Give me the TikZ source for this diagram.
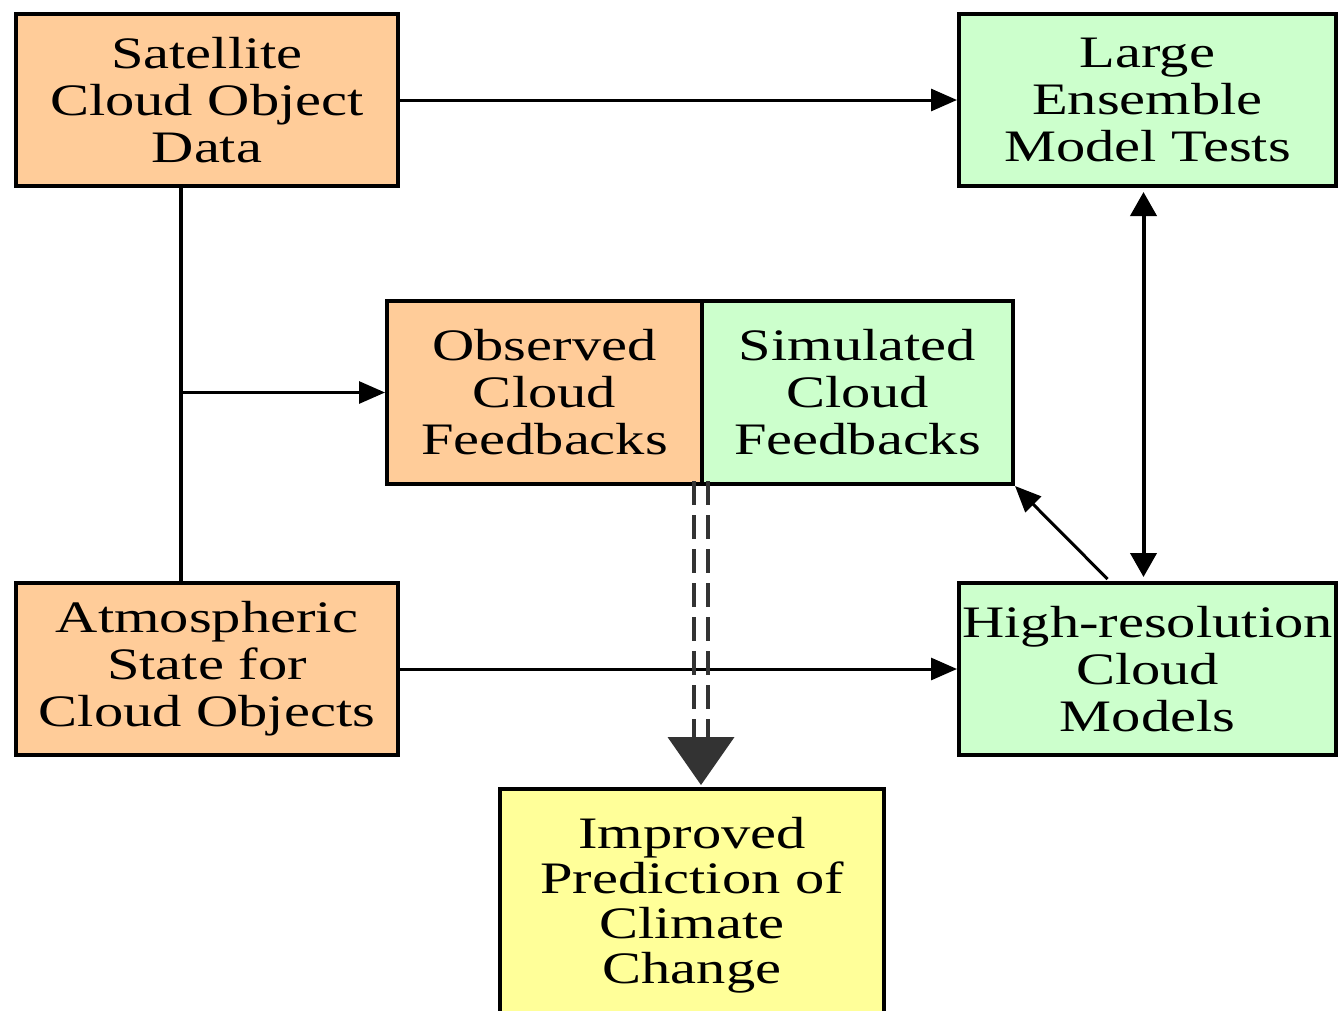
\documentclass[tikz,border=0pt]{standalone}
\usepackage{fontspec}
\setmainfont{Liberation Serif}[FakeStretch=1.3]
\usetikzlibrary{arrows.meta,calc}
\definecolor{boxorange}{HTML}{FFCC99}
\definecolor{boxgreen}{HTML}{CCFFCC}
\definecolor{boxyellow}{HTML}{FFFF99}
\definecolor{ddgray}{HTML}{333333}
\begin{document}
\begin{tikzpicture}[x=1pt,y=-1pt,
  box/.style={draw=black, line width=4pt, rectangle, inner sep=0pt, align=center,
    font=\fontsize{45}{47}\selectfont},
  obox/.style={box, fill=boxorange},
  gbox/.style={box, fill=boxgreen},
  ybox/.style={box, fill=boxyellow, font=\fontsize{45}{45}\selectfont},
  conn/.style={draw=black, line width=3pt},
  arr/.style={conn, -{Triangle[length=26pt,width=22pt]}},
  arrb/.style={conn, line width=4pt, {Triangle[length=24pt,width=26pt]}-{Triangle[length=24pt,width=26pt]}},
  dd/.style={draw=ddgray, line width=4pt, dash pattern=on 24pt off 10pt}
]
\useasboundingbox (0,0) rectangle (1340,1010);
\fill[white] (0,0) rectangle (1340,1010);

\node[obox, minimum width=382pt, minimum height=172pt] (sat) at (207,100) {Satellite\\Cloud Object\\Data};
\node[gbox, minimum width=377pt, minimum height=172pt] (ens) at (1147.5,100) {Large\\Ensemble\\Model Tests};
\node[obox, minimum width=315pt, minimum height=183pt] (obs) at (544.5,392.5) {Observed\\Cloud\\Feedbacks};
\node[gbox, minimum width=311pt, minimum height=183pt] (sim) at (857.5,392.5) {Simulated\\Cloud\\Feedbacks};
\node[obox, minimum width=382pt, minimum height=172pt] (atm) at (207,669) {Atmospheric\\State for\\Cloud Objects};
\node[gbox, minimum width=377pt, minimum height=172pt] (hr) at (1147.5,669) {High-resolution\\Cloud\\Models};
\node[ybox, minimum width=384pt, minimum height=232pt] (imp) at (692,905) {Improved\\Prediction of\\Climate\\Change};

% connectors
\draw[arr] (sat) -- (ens);
\draw[conn, line width=4pt] ([xshift=-26pt]sat.south) -- ([xshift=-26pt]atm.north);
\coordinate (jn) at ([xshift=-26pt]sat.south |- obs.west);
\draw[arr] (jn) -- (obs.west);
\draw[arr] (atm) -- (hr);
\draw[arrb, shorten <=4pt, shorten >=4pt] ([xshift=-4pt]ens.south) -- ([xshift=-4pt]hr.north);
\draw[arr] ([xshift=-40pt,yshift=2pt]hr.north) -- (sim.south east);

% double dashed arrow
\coordinate (ddtop) at ([xshift=-3pt,yshift=5pt]obs.south east);
\coordinate (ddend) at (ddtop |- imp.north);
\draw[dd] ([xshift=-7pt]ddtop) -- ([shift={(-7pt,50pt)}]ddend);
\draw[dd] ([xshift=7pt]ddtop) -- ([shift={(7pt,50pt)}]ddend);
\fill[ddgray] ([shift={(-33.5pt,50pt)}]ddend) -- ([shift={(33.5pt,50pt)}]ddend) -- ([yshift=2pt]ddend) -- cycle;
\end{tikzpicture}
\end{document}
